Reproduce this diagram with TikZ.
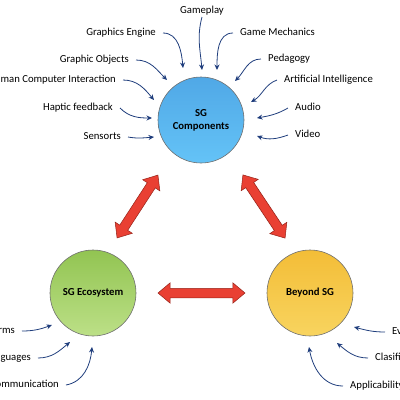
\documentclass[tikz,border=0pt]{standalone}
\usepackage{fontspec}
\setmainfont{Carlito}
\usetikzlibrary{arrows.meta,shapes.arrows}
\definecolor{arrowblue}{RGB}{31,61,124}
\definecolor{hubborder}{RGB}{110,110,110}
\definecolor{bluetop}{RGB}{80,168,230}
\definecolor{bluebot}{RGB}{100,195,247}
\definecolor{greentop}{RGB}{146,196,82}
\definecolor{greenbot}{RGB}{188,224,135}
\definecolor{yellowtop}{RGB}{243,189,55}
\definecolor{yellowbot}{RGB}{248,212,95}
\definecolor{blockred}{RGB}{233,64,51}
\definecolor{blockredline}{RGB}{150,35,25}
\begin{document}
\begin{tikzpicture}[x=1pt,y=1pt,
  lbl/.style={font=\fontsize{10.7}{12}\selectfont, inner xsep=7pt, inner ysep=1pt, text height=7.5pt, text depth=2.5pt},
  conn/.style={draw=arrowblue, line width=0.8pt, -{Stealth[length=5.5pt,width=5pt]}},
  hub/.style={circle, minimum size=86pt, draw=hubborder, line width=0.6pt, font=\fontsize{10.7}{13}\selectfont\bfseries, align=center, inner sep=0pt},
  blockarrow/.style={double arrow, fill=blockred, draw=blockredline, line width=0.5pt, minimum width=0pt, inner xsep=0pt, inner ysep=4.5pt, double arrow head extend=5.5pt, double arrow tip angle=80}
]
\useasboundingbox (0,0) rectangle (400,-400);

% hubs
\node[hub, top color=bluetop, bottom color=bluebot] (comp) at (201,-120) {SG\\Components};
\node[hub, top color=greentop, bottom color=greenbot] (eco) at (93,-293) {SG Ecosystem};
\node[hub, top color=yellowtop, bottom color=yellowbot] (beyond) at (310,-293) {Beyond SG};

% red block arrows
\node[blockarrow, minimum height=87pt] (rah) at (201.5,-293) {};
\node[blockarrow, minimum height=75pt, rotate=57] (ral) at (137.5,-206.5) {};
\node[blockarrow, minimum height=76pt, rotate=-56.3] (rar) at (264,-206.5) {};

% top labels
\node[lbl, anchor=south, inner ysep=1pt] (gp) at (202,-17) {Gameplay};
\draw[conn] (gp.south) to[out=-105,in=95] (202,-70);

\node[lbl, anchor=east] (ge) at (163,-33) {Graphics Engine};
\draw[conn] (ge.east) to[out=0,in=95] (183,-68);
\node[lbl, anchor=east] (go) at (136,-60) {Graphic Objects};
\draw[conn] (go.east) to[out=0,in=135] (167,-80);
\node[lbl, anchor=east] (hci) at (123,-80) {Human Computer Interaction};
\draw[conn] (hci.east) to[out=0,in=130] (154,-100);
\node[lbl, anchor=east] (hf) at (120,-108) {Haptic feedback};
\draw[conn] (hf.east) to[out=-45,in=180] (152,-118);
\node[lbl, anchor=east] (se) at (128,-137) {Sensorts};
\draw[conn] (se.east) to[out=-10,in=185] (154,-137);

\node[lbl, anchor=west] (gm) at (233,-33) {Game Mechanics};
\draw[conn] (gm.west) to[out=180,in=90] (217,-70);
\node[lbl, anchor=west] (pe) at (261,-59) {Pedagogy};
\draw[conn] (pe.west) to[out=180,in=45] (235,-81);
\node[lbl, anchor=west] (ai) at (277,-80) {Artificial Intelligence};
\draw[conn] (ai.west) to[out=200,in=30] (251,-102);
\node[lbl, anchor=west] (au) at (288,-108) {Audio};
\draw[conn] (au.west) to[out=210,in=10] (257,-118);
\node[lbl, anchor=west] (vi) at (288,-135) {Video};
\draw[conn] (vi.west) to[out=200,in=-20] (257,-136);

% bottom left
\node[lbl, anchor=east] (pl) at (22,-331) {Platforms};
\draw[conn] (pl.east) to[out=0,in=200] (52,-325);
\node[lbl, anchor=east] (la) at (38,-358) {Languages};
\draw[conn] (la.east) to[out=0,in=220] (70,-342);
\node[lbl, anchor=east] (co) at (66,-385) {Communication};
\draw[conn] (co.east) to[out=10,in=265] (92,-347);

% bottom right
\node[lbl, anchor=west] (ev) at (385,-332) {Evaluation};
\draw[conn] (ev.west) to[out=180,in=-15] (354,-327);
\node[lbl, anchor=west] (cl) at (368,-358) {Clasification};
\draw[conn] (cl.west) to[out=180,in=-40] (337,-343);
\node[lbl, anchor=west] (ap) at (343,-386) {Applicability};
\draw[conn] (ap.west) to[out=180,in=-80] (309,-347);
\end{tikzpicture}
\end{document}
